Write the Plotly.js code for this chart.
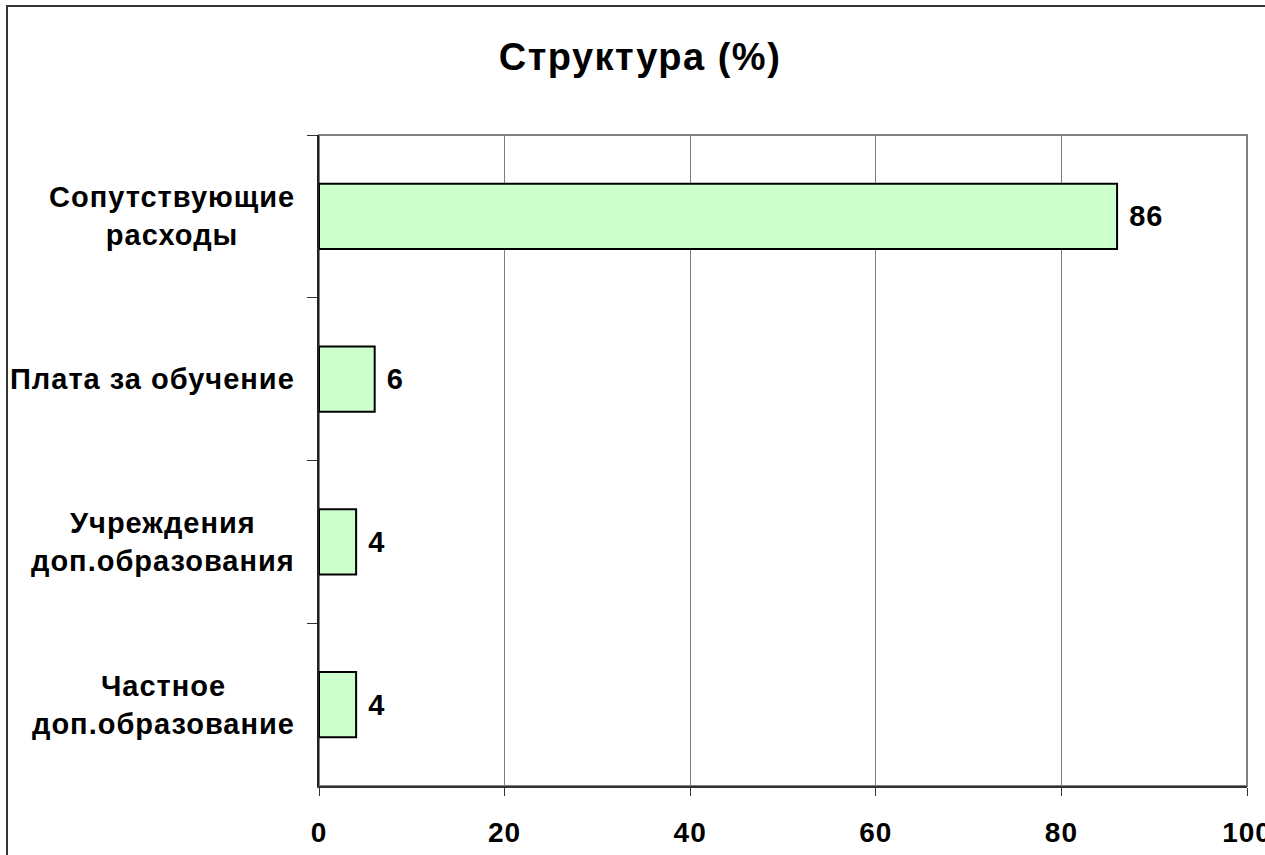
<!DOCTYPE html>
<html><head><meta charset="utf-8">
<script src="https://cdn.plot.ly/plotly-3.0.1.min.js"></script>
<style>
html,body{margin:0;padding:0;overflow:hidden;background:#fff;}
#chart{width:1265px;height:855px;position:absolute;left:0;top:0;}
#frame{position:absolute;left:6px;top:5px;width:1400px;height:1000px;border:2px solid #333;pointer-events:none;}
.annotation-text{letter-spacing:1px;}
.gtitle{letter-spacing:1.5px;}
.xtick text{letter-spacing:1px;}
.bartext{letter-spacing:1px;}
</style></head>
<body>
<div id="chart"></div>
<div id="frame"></div>
<script>
const categories = ["Сопутствующие расходы", "Плата за обучение", "Учреждения доп.образования", "Частное доп.образование"];
const categoryLabels = ["Сопутствующие<br>расходы", "Плата за обучение", "Учреждения<br>доп.образования", "Частное<br>доп.образование"];
const values = [86, 6, 4, 4];
const xTicks = [0, 20, 40, 60, 80, 100];

const FONT = "Liberation Sans, Arial, sans-serif";

const trace = {
  type: "bar",
  orientation: "h",
  y: categories,
  x: values,
  marker: {color: "#CCFFCC", line: {color: "#000", width: 2}},
  text: values.map(v => String(v)),
  texttemplate: " %{text}",
  textposition: "outside",
  textfont: {family: FONT, size: 29, color: "#000", weight: "bold"},
  cliponaxis: false,
  hoverinfo: "none"
};

const annotations = categories.map((c, i) => ({
  xref: "paper", yref: "y", x: 0, y: c,
  xanchor: "right", yanchor: "middle", xshift: -22,
  text: categoryLabels[i], showarrow: false, align: "center",
  font: {family: FONT, size: 29, color: "#000", weight: "bold"}
}));

const layout = {
  width: 1265, height: 855,
  margin: {l: 319, r: 18, t: 135, b: 69},
  paper_bgcolor: "#fff", plot_bgcolor: "#fff",
  showlegend: false,
  bargap: 0.6,
  title: {text: "Структура (%)", x: 640/1265, xanchor: "center", y: 1 - 57/855, yref: "container", yanchor: "middle",
    font: {family: FONT, size: 38, color: "#000", weight: "bold"}},
  xaxis: {range: [0, 100], tickvals: xTicks, ticktext: xTicks.map(String),
    showgrid: true, gridcolor: "#808080", gridwidth: 1, zeroline: false,
    showline: true, linecolor: "#333", linewidth: 2,
    ticks: "outside", ticklen: 8, tickcolor: "#333", tickwidth: 1,
    ticklabelstandoff: 12, ticklabeloverflow: "allow",
    tickfont: {family: FONT, size: 28, color: "#000", weight: "bold"}},
  yaxis: {type: "category", autorange: "reversed", showticklabels: false,
    showgrid: false, zeroline: false, showline: true, linecolor: "#222", linewidth: 2,
    ticks: "outside", tickson: "boundaries", ticklen: 10, tickcolor: "#333", tickwidth: 1},
  shapes: [{type: "rect", xref: "x domain", yref: "y domain", x0: 0, x1: 1, y0: 0, y1: 1,
    line: {color: "#808080", width: 2}, layer: "below"}],
  annotations: annotations
};

Plotly.newPlot("chart", [trace], layout, {displayModeBar: false, staticPlot: true});
</script>
</body></html>
